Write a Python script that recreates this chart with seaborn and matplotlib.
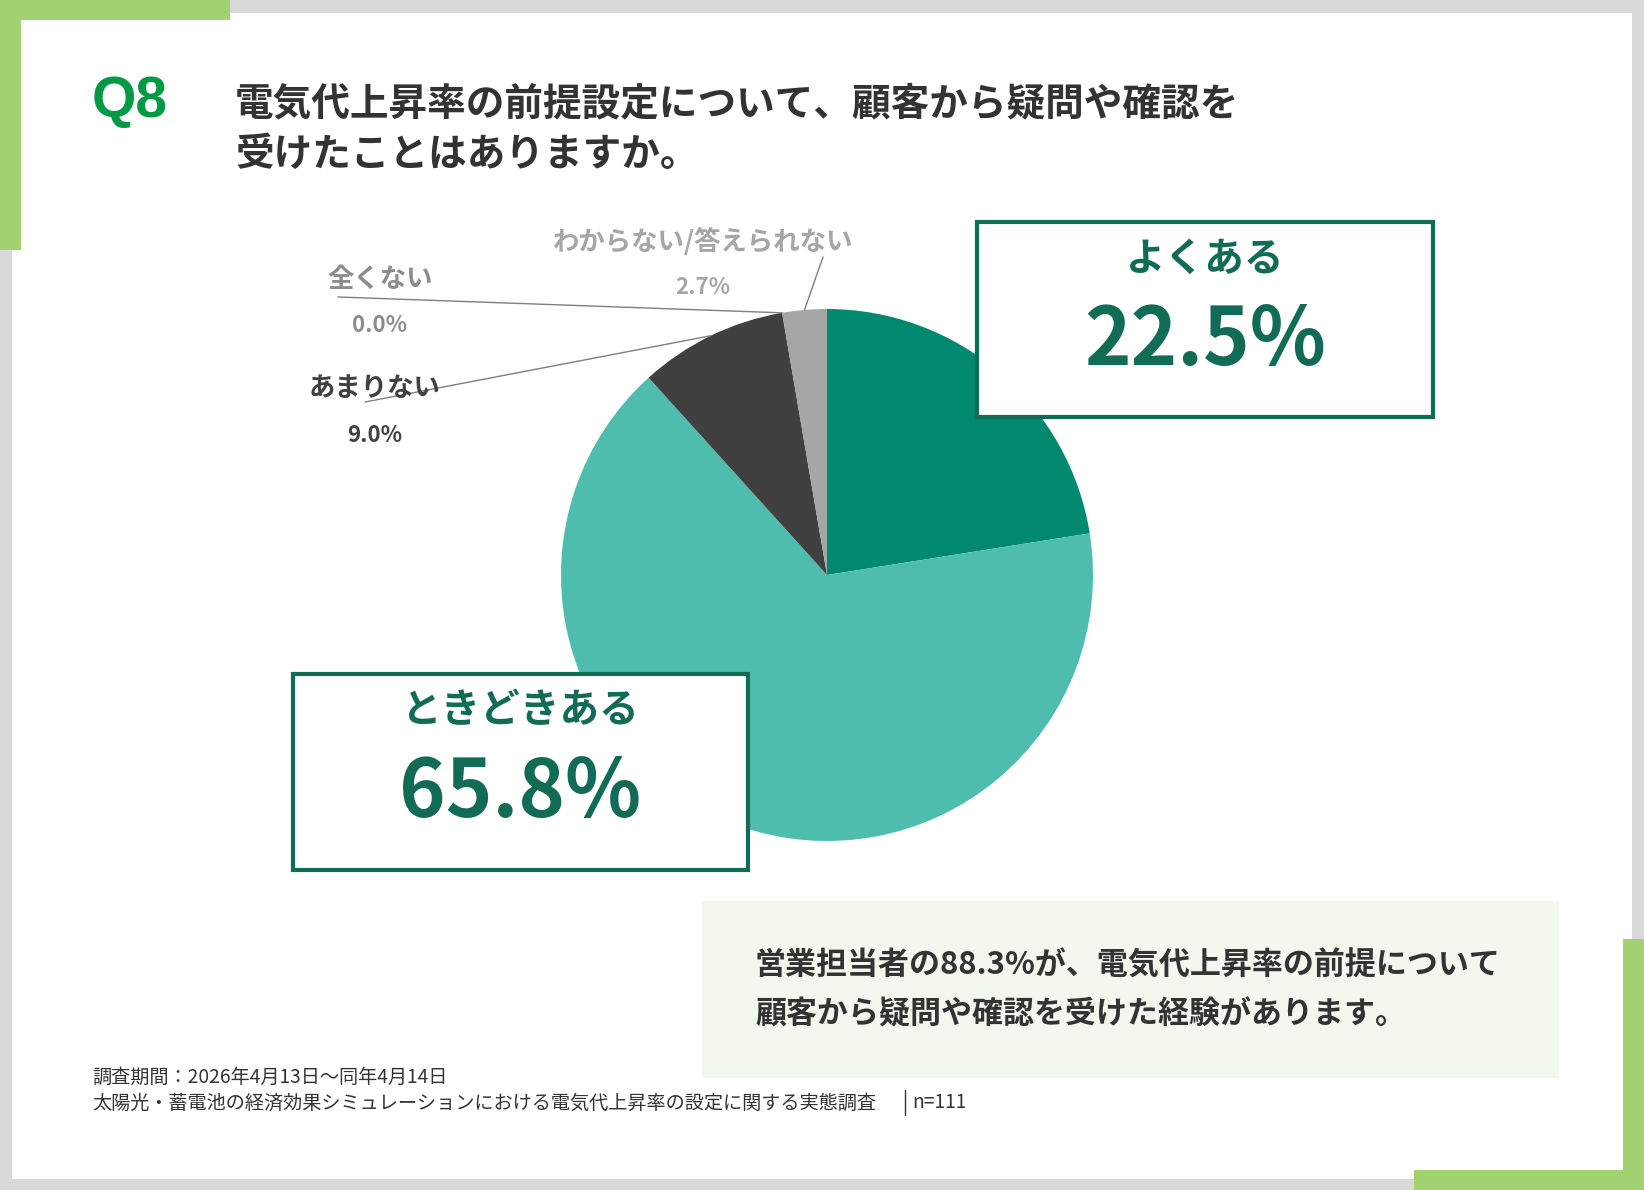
import numpy as np
import matplotlib
matplotlib.use("Agg")
import matplotlib.pyplot as plt
from matplotlib.patches import Rectangle
import seaborn as sns

# Data
labels = ['よくある', 'ときどきある', 'あまりない', '全くない', 'わからない/答えられない']
values = [22.5, 65.8, 9.0, 0.0, 2.7]
slice_colors = ['#00896f', '#4fbdae', '#404040', '#8c8c8c', '#a6a6a6']
title_lines = ['電気代上昇率の前提設定について、顧客から疑問や確認を', '受けたことはありますか。']
summary_lines = ['営業担当者の88.3%が、電気代上昇率の前提について', '顧客から疑問や確認を受けた経験があります。']
footer_lines = ['調査期間：2026年4月13日～同年4月14日',
                '太陽光・蓄電池の経済効果シミュレーションにおける電気代上昇率の設定に関する実態調査']
n_text = 'n=111'

sns.set_theme(style='white')
plt.rcParams['font.family'] = ['Noto Sans CJK JP', 'DejaVu Sans']

W, H = 1644, 1190
fig = plt.figure(figsize=(W / 100, H / 100), dpi=100)
fig.patch.set_facecolor('#d9d9d9')


def pixel_axes(z):
    a = fig.add_axes([0, 0, 1, 1], zorder=z)
    a.set_xlim(0, W)
    a.set_ylim(H, 0)
    a.axis('off')
    a.patch.set_alpha(0)
    return a


# frame
bg = pixel_axes(0)
bg.add_patch(Rectangle((12, 13), 1620, 1166, fc='white', ec='none'))
green = '#a3d273'
for rect in [(0, 0, 230, 20), (0, 0, 21, 250), (1623, 939, 21, 251), (1414, 1170, 230, 20)]:
    bg.add_patch(Rectangle(rect[:2], rect[2], rect[3], fc=green, ec='none'))

# pie
cx, cy, r = 827, 575, 266
pax = fig.add_axes([(cx - r) / W, 1 - (cy + r) / H, 2 * r / W, 2 * r / H], zorder=1)
wedges, _ = pax.pie(values, colors=slice_colors, startangle=90, counterclock=False,
                    radius=1, wedgeprops=dict(linewidth=0))
pax.set_xlim(-1, 1)
pax.set_ylim(-1, 1)
pax.axis('off')

ov = pixel_axes(2)


def edge_point(theta):
    t = np.deg2rad(theta)
    return cx + r * np.cos(t), cy - r * np.sin(t)


# small labels with leader lines
mid = {lab: (w.theta1 + w.theta2) / 2 for lab, w in zip(labels, wedges)}
mid['全くない'] = wedges[3].theta1
small = [
    ('わからない/答えられない', '#a6a6a6', (703, 242), (703, 288), (823, 257)),
    ('全くない', '#8c8c8c', (380, 279), (380, 325), (338, 297)),
    ('あまりない', '#404040', (375, 389), (375, 435), (365, 402)),
]
for lab, col, lpos, ppos, lstart in small:
    v = values[labels.index(lab)]
    ov.text(*lpos, lab, fontsize=19, color=col, ha='center', va='center', weight='bold')
    ov.text(*ppos, f'{v:.1f}%', fontsize=16, color=col, ha='center', va='center', weight='bold')
    ex, ey = edge_point(mid[lab])
    ov.plot([lstart[0], ex], [lstart[1], ey], color='#7f7f7f', lw=1)

# highlight boxes
dark = '#126b55'
boxes = [('よくある', (977, 222, 456, 195)), ('ときどきある', (293, 674, 455, 196))]
for lab, (bx, by, bw, bh) in boxes:
    ov.add_patch(Rectangle((bx, by), bw, bh, fc='white', ec=dark, lw=3))
    v = values[labels.index(lab)]
    ov.text(bx + bw / 2, by + 37, lab, fontsize=28.5, color=dark, ha='center', va='center', weight='bold')
    ov.text(bx + bw / 2, by + 119, f'{v:.1f}%', fontsize=57, color=dark, ha='center', va='center',
            weight='bold')

# title
ov.text(92, 102, 'Q8', fontsize=41, color='#009a44', weight='bold', family='Liberation Sans',
        va='center', ha='left')
ov.text(235, 104, title_lines[0], fontsize=27.8, color='#333333', weight='bold', va='center')
ov.text(235, 154, title_lines[1], fontsize=27.8, color='#333333', weight='bold', va='center')

# summary box
ov.add_patch(Rectangle((702, 901), 857, 177, fc='#f3f8ee', ec='none'))
ov.text(755, 966, summary_lines[0], fontsize=22.3, color='#333333', weight='bold', va='center')
ov.text(755, 1015, summary_lines[1], fontsize=22.3, color='#333333', weight='bold', va='center')

# footer
ov.text(92, 1077, footer_lines[0], fontsize=13.8, color='#333333', va='center')
ov.text(92, 1103, footer_lines[1], fontsize=13.8, color='#333333', va='center')
ov.plot([905, 905], [1090, 1115], color='#333333', lw=1)
ov.text(912, 1103, n_text, fontsize=13.8, color='#333333', va='center')

fig.savefig('out.png', dpi=100)
